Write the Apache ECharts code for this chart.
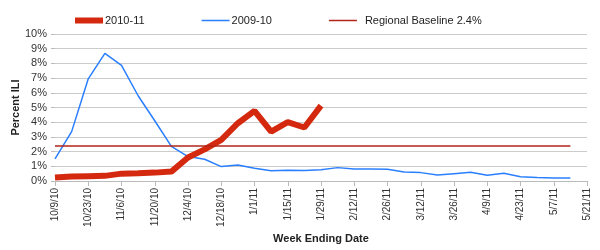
<!DOCTYPE html>
<html>
<head>
<meta charset="utf-8">
<script src="https://cdn.jsdelivr.net/npm/echarts@6/dist/echarts.min.js"></script>
<style>
  html, body { margin: 0; padding: 0; background: #fff; }
  #chart { width: 600px; height: 250px; }
</style>
</head>
<body>
<div id="chart"></div>
<script>
// week ending dates
const weeks = ['10/9/10', '10/16/10', '10/23/10', '10/30/10', '11/6/10', '11/13/10', '11/20/10', '11/27/10',
  '12/4/10', '12/11/10', '12/18/10', '12/25/10', '1/1/11', '1/8/11', '1/15/11', '1/22/11', '1/29/11',
  '2/5/11', '2/12/11', '2/19/11', '2/26/11', '3/5/11', '3/12/11', '3/19/11', '3/26/11', '4/2/11',
  '4/9/11', '4/16/11', '4/23/11', '4/30/11', '5/7/11', '5/14/11', '5/21/11'];
// percent ILI
const season1011 = [0.23, 0.3, 0.33, 0.35, 0.5, 0.52, 0.57, 0.64, 1.6, 2.15, 2.8, 3.93, 4.77, 3.36, 4.0, 3.64, 5.13];
const season0910 = [1.5, 3.36, 6.95, 8.68, 7.86, 5.8, 4.1, 2.35, 1.66, 1.48, 0.98, 1.09, 0.86, 0.7, 0.73, 0.72,
  0.77, 0.91, 0.82, 0.82, 0.8, 0.61, 0.57, 0.41, 0.5, 0.59, 0.39, 0.52, 0.29, 0.23, 0.2, 0.2];
const baseline = 2.4;
const baselineEnd = '5/14/11';

const chart = echarts.init(document.getElementById('chart'));
const font = 'Liberation Sans, Arial, sans-serif';
const option = {
  animation: false,
  textStyle: { fontFamily: font },
  grid: { left: 55, right: 13, top: 34, bottom: 69, outerBoundsMode: 'none', containLabel: false },
  legend: {
    left: 70,
    top: 10,
    itemGap: 57,
    itemWidth: 28,
    itemHeight: 6,
    textStyle: { fontFamily: font, fontSize: 11, color: '#222', padding: [0, 0, 0, -3] },
    data: [
      { name: '2010-11', icon: 'path://M0,0H28V6H0Z' },
      { name: '2009-10', icon: 'path://M0,0H28V1.5H0Z' },
      { name: 'Regional Baseline 2.4%', icon: 'path://M0,0H28V1.5H0Z', textStyle: { padding: [0, 0, 0, 3] } }
    ]
  },
  xAxis: {
    type: 'category',
    boundaryGap: false,
    data: weeks,
    name: 'Week Ending Date',
    nameLocation: 'middle',
    nameGap: 52,
    nameMoveOverlap: false,
    nameTextStyle: { fontWeight: 'bold', fontSize: 11, color: '#222' },
    axisLine: { lineStyle: { color: '#bbb' } },
    axisTick: { interval: 1, length: 5, lineStyle: { color: '#bbb' } },
    axisLabel: { interval: 1, rotate: 90, fontSize: 10, color: '#333', margin: 7 },
    splitLine: { show: false }
  },
  yAxis: {
    type: 'value',
    min: 0,
    max: 10,
    interval: 1,
    name: 'Percent ILI',
    nameLocation: 'middle',
    nameGap: 34,
    nameMoveOverlap: false,
    nameTextStyle: { fontWeight: 'bold', fontSize: 11, color: '#222' },
    axisLine: { show: false },
    axisTick: { show: true, length: 4, lineStyle: { color: '#bbb' } },
    axisLabel: { formatter: '{value}%', fontSize: 11, color: '#333', margin: 8 },
    splitLine: { lineStyle: { color: '#ccc', width: 1 } }
  },
  series: [
    {
      name: '2010-11',
      type: 'line',
      data: season1011,
      symbol: 'none',
      z: 4,
      itemStyle: { color: '#d4290f' },
      lineStyle: { color: '#d4290f', width: 6 }
    },
    {
      name: '2009-10',
      type: 'line',
      data: season0910,
      symbol: 'none',
      z: 3,
      itemStyle: { color: '#2a7fff' },
      lineStyle: { color: '#2a7fff', width: 1.5 }
    },
    {
      name: 'Regional Baseline 2.4%',
      type: 'line',
      data: [],
      symbol: 'none',
      itemStyle: { color: '#b3241a' },
      lineStyle: { color: '#b3241a', width: 1.5 },
      markLine: {
        silent: true,
        symbol: 'none',
        label: { show: false },
        lineStyle: { color: '#b3241a', width: 1.5, type: 'solid' },
        data: [[{ coord: [weeks[0], baseline] }, { coord: [baselineEnd, baseline] }]]
      }
    }
  ]
};
chart.setOption(option);
</script>
</body>
</html>
